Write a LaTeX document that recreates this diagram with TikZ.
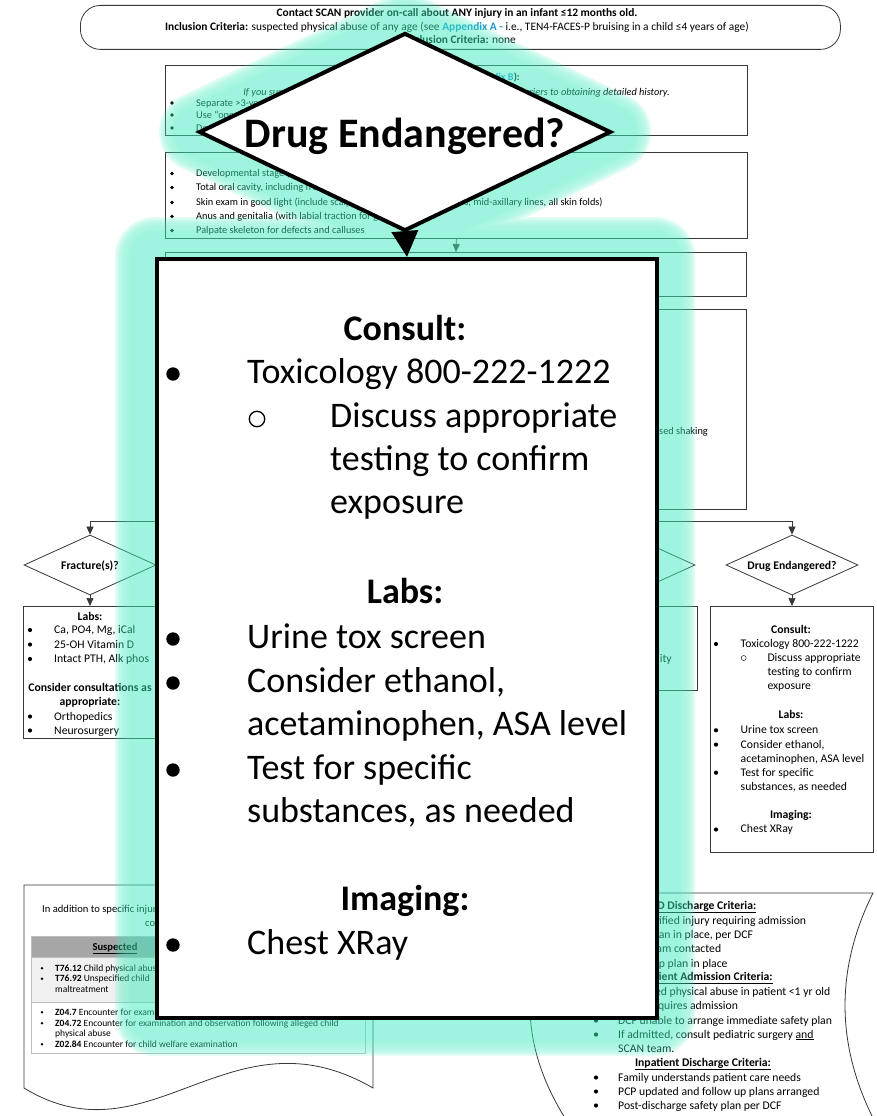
\documentclass[tikz,border=0pt]{standalone}
\usepackage{fontspec}
\setmainfont{Carlito}
\usetikzlibrary{arrows.meta,shapes.geometric}

\definecolor{glowc}{RGB}{62,235,190}
\definecolor{linkc}{RGB}{30,150,205}
\definecolor{hdrgray}{RGB}{166,166,166}
\definecolor{rowgray}{RGB}{240,240,240}
\definecolor{rulegray}{RGB}{190,190,190}
\definecolor{edgegray}{RGB}{55,55,55}

\newcommand{\sz}[1]{\fontsize{#1}{#1}\selectfont}
% filled and hollow list bullets: x, y, radius
\newcommand{\bul}[3]{\fill (#1,#2) circle[radius=#3];}
\newcommand{\hbul}[4]{\draw[line width=#4pt] (#1,#2) circle[radius=#3];}

\tikzset{
  lbl/.style={inner sep=0pt, anchor=base west},
  clbl/.style={inner sep=0pt, anchor=base},
  rlbl/.style={inner sep=0pt, anchor=base east},
  fa/.style={font=\sz{10.3}},
  fb/.style={font=\sz{11.7}},
  ft/.style={font=\sz{11.4}},
  fc/.style={font=\sz{10.6}},
  fd/.style={font=\sz{9.5}},
  fbig/.style={font=\sz{36}},
  plainbox/.style={draw=edgegray, line width=0.8pt, fill=white, inner sep=0pt, anchor=north west},
  smalldiam/.style={diamond, draw=edgegray, line width=0.8pt, fill=white, inner sep=0pt,
    minimum width=132pt, minimum height=60pt},
  flow/.style={draw=edgegray, line width=0.7pt, -{Triangle[length=8pt,width=7pt]}},
  bigdiam/.style={diamond, draw=black, fill=white, line width=4pt, inner sep=0pt,
    minimum width=412pt, minimum height=198pt},
  bigbox/.style={draw=black, fill=white, line width=4pt, inner sep=0pt, anchor=north west,
    minimum width=500pt, minimum height=759pt},
  bigflow/.style={draw=black, line width=4pt, -{Triangle[length=26pt,width=26pt]}},
}

\begin{document}
\begin{tikzpicture}[x=1pt,y=-1pt]
\useasboundingbox (0,0) rectangle (876,1116);
\fill[white] (0,0) rectangle (876,1116);

% ---------- entry terminal
\node[plainbox, rounded corners=20pt, minimum width=760pt, minimum height=44pt] (top) at (80,5) {};
\node[clbl, ft] (top1) at (457,17) {\bfseries Contact SCAN provider on-call about ANY injury in an infant ≤12 months old.};
\node[clbl, ft] (top2) at (457,30.5) {\textbf{Inclusion Criteria:} suspected physical abuse of any age (see \textcolor{linkc}{\textbf{Appendix A -}} i.e., TEN4-FACES-P bruising in a child ≤4 years of age)};
\node[clbl, ft] (top3) at (460,44) {\textbf{Exclusion Criteria:} none};

% ---------- history box
\node[plainbox, minimum width=582pt, minimum height=70pt] (hist) at (165,65) {};
\node[rlbl, fa] (hist0) at (520,80.5) {\bfseries History (see \textcolor{linkc}{\underline{Appendix B}}):};
\node[clbl, fa] (hist1) at (456.5,95.5) {\itshape If you suspect abuse, do not let your concerns about reporting be barriers to obtaining detailed history.};
\bul{172}{103}{1.8}
\node[lbl, fa] (hist2) at (196,106) {Separate >3-year-old children from caregivers for interview};
\bul{172}{115}{1.8}
\node[lbl, fa] (hist3) at (196,118.5) {Use “open”};
\bul{172}{128}{1.8}
\node[lbl, fa] (hist4) at (196,131) {Describe};

% ---------- exam box
\node[plainbox, minimum width=582pt, minimum height=86pt] (exam) at (165,152) {};
\bul{172}{173.5}{1.8}
\node[lbl, fa] (exam1) at (196,176.5) {Developmental stage (rolling, sitting, crawling, walking)};
\bul{172}{187.5}{1.8}
\node[lbl, fa] (exam2) at (196,190.5) {Total oral cavity, including frenula};
\bul{172}{202.5}{1.8}
\node[lbl, fa] (exam3) at (196,205.5) {Skin exam in good light (include scalp, face, neck, behind the ears, mid-axillary lines, all skin folds)};
\bul{172}{216.5}{1.8}
\node[lbl, fa] (exam4) at (196,219.5) {Anus and genitalia (with labial traction for girls)};
\bul{172}{230.5}{1.8}
\node[lbl, fa] (exam5) at (196,233.5) {Palpate skeleton for defects and calluses};

% ---------- work-up boxes
\node[plainbox, minimum width=581pt, minimum height=44pt] (wk) at (165,252) {};
\node[plainbox, minimum width=581pt, minimum height=200pt] (imag) at (165,309) {};
\node[rlbl, fa] (imag1) at (708,434.5) {if witnessed shaking};
\draw[flow] (exam.south) -- (wk.north);

% ---------- branch diamonds
\node[smalldiam] (frac) at (90,565) {};
\node[clbl, fb] (fract) at (90,569) {\bfseries Fracture(s)?};
\node[smalldiam] (abd) at (629,565) {};
\node[smalldiam] (drug) at (792,565) {};
\node[clbl, fb] (drugt) at (792,569) {\bfseries Drug Endangered?};
\coordinate (split) at (456,521);
\draw[draw=edgegray, line width=0.7pt] (imag.south) -- (split);
\draw[flow] (split) -| (frac.north);
\draw[flow] (split) -| (abd.north);
\draw[flow] (split) -| (drug.north);

% ---------- fracture work-up
\node[plainbox, minimum width=135pt, minimum height=132pt] (fbox) at (23,606) {};
\draw[flow] (frac.south) -- (fbox.north -| frac.south);
\node[clbl, fb] (fb0) at (90,620) {\bfseries Labs:};
\bul{30}{630}{2.1}
\node[lbl, fb] (fb1) at (54,633.5) {Ca, PO4, Mg, iCal};
\bul{30}{644.5}{2.1}
\node[lbl, fb] (fb2) at (54,648) {25-OH Vitamin D};
\bul{30}{659}{2.1}
\node[lbl, fb] (fb3) at (54,662.5) {Intact PTH, Alk phos};
\node[clbl, fb] (fb4) at (90,691.5) {\bfseries Consider consultations as};
\node[clbl, fb] (fb5) at (90,705.5) {\bfseries appropriate:};
\bul{30}{716.5}{2.1}
\node[lbl, fb] (fb6) at (54,720) {Orthopedics};
\bul{30}{730.5}{2.1}
\node[lbl, fb] (fb7) at (54,734) {Neurosurgery};

% ---------- abdominal work-up
\node[plainbox, minimum width=137pt, minimum height=84pt] (abox) at (560,606) {};
\draw[flow] (abd.south) -- (abox.north -| abd.south);
\node[rlbl, fb] (abox1) at (672,662) {CT abdomen/pelvis if any abnormality};

% ---------- drug-endangered work-up
\node[plainbox, minimum width=163pt, minimum height=246pt] (dbox) at (710,606) {};
\draw[flow] (drug.south) -- (dbox.north -| drug.south);
\node[clbl, fb] (db0) at (791,633) {\bfseries Consult:};
\bul{716}{644}{2.1}
\node[lbl, fb] (db1) at (740.5,647) {Toxicology 800-222-1222};
\hbul{743.7}{658}{2.5}{0.45}
\node[lbl, fb] (db2) at (767.3,661.3) {Discuss appropriate};
\node[lbl, fb] (db3) at (767.3,675.3) {testing to confirm};
\node[lbl, fb] (db4) at (767.3,689.3) {exposure};
\node[clbl, fb] (db5) at (791,718.4) {\bfseries Labs:};
\bul{716}{730.3}{2.1}
\node[lbl, fb] (db6) at (740.5,733.7) {Urine tox screen};
\bul{716}{744.6}{2.1}
\node[lbl, fb] (db7) at (740.5,748) {Consider ethanol,};
\node[lbl, fb] (db8) at (740.5,762) {acetaminophen, ASA level};
\bul{716}{772.7}{2.1}
\node[lbl, fb] (db9) at (740.5,776) {Test for specific};
\node[lbl, fb] (db10) at (740.5,790) {substances, as needed};
\node[clbl, fb] (db11) at (791,818.4) {\bfseries Imaging:};
\bul{716}{829.5}{2.1}
\node[lbl, fb] (db12) at (740.5,832.8) {Chest XRay};

% ---------- coding document
\draw[draw=edgegray, line width=0.8pt, fill=white]
  (24,885) -- (373,885) -- (373,1088) .. controls (230,1005) and (150,1165) .. (24,1088) -- cycle;
\node[lbl, fc] (doc1) at (42,912.5) {In addition to specific injury diagnoses, please also consider these ICD-10};
\node[lbl, fc] (doc2) at (145,926.5) {codes as appropriate:};
\fill[hdrgray] (31,936) rectangle (365,957);
\fill[rowgray] (31,957) rectangle (365,1002);
\draw[rulegray, line width=0.6pt] (31,936) rectangle (365,1053) (31,957) -- (365,957) (31,1002) -- (365,1002);
\node[clbl, fc] (thd) at (115,950) {\bfseries\underline{Suspected}};
\bul{42}{968.2}{1.4}
\node[lbl, fd] (r1) at (55,971) {\textbf{T76.12} Child physical abuse, suspected};
\bul{42}{978.7}{1.4}
\node[lbl, fd] (r2) at (55,981.5) {\textbf{T76.92} Unspecified child};
\node[lbl, fd] (r3) at (55,992) {maltreatment};
\bul{42}{1012.2}{1.4}
\node[lbl, fd] (r4) at (55,1015) {\textbf{Z04.7} Encounter for examination and observation following other physical abuse};
\bul{42}{1023.2}{1.4}
\node[lbl, fd] (r5) at (55,1026) {\textbf{Z04.72} Encounter for examination and observation following alleged child};
\node[lbl, fd] (r6) at (55,1036.5) {physical abuse};
\bul{42}{1044.2}{1.4}
\node[lbl, fd] (r7) at (55,1047) {\textbf{Z02.84} Encounter for child welfare examination};

% ---------- disposition criteria
\draw[draw=edgegray, line width=0.8pt, fill=white]
  (565,893) -- (873,893) .. controls (835.7,968) and (835.7,1043) .. (873,1118)
  -- (565,1118) .. controls (518.3,1043) and (518.3,968) .. (565,893) -- cycle;
\node[clbl, fb] (dc0) at (704,909) {\bfseries\underline{ED Discharge Criteria:}};
\bul{596}{920.5}{2.1}
\node[lbl, fb] (dc1) at (618,924) {No identified injury requiring admission};
\bul{596}{935}{2.1}
\node[lbl, fb] (dc2) at (618,938.5) {Safety plan in place, per DCF};
\bul{596}{949}{2.1}
\node[lbl, fb] (dc3) at (618,952.5) {SCAN team contacted};
\bul{596}{963.5}{2.1}
\node[lbl, fb] (dc4) at (618,967) {Follow-up plan in place};
\node[clbl, fb] (dc5) at (703,980) {\bfseries\underline{Inpatient Admission Criteria:}};
\bul{596}{991.5}{2.1}
\node[lbl, fb] (dc6) at (618,995) {Suspected physical abuse in patient <1 yr old};
\bul{596}{1005.5}{2.1}
\node[lbl, fb] (dc7) at (618,1009) {Injury requires admission};
\bul{596}{1020.5}{2.1}
\node[lbl, fb] (dc8) at (618,1024) {DCF unable to arrange immediate safety plan};
\bul{596}{1034.5}{2.1}
\node[lbl, fb] (dc9) at (618,1038) {If admitted, consult pediatric surgery \underline{and}};
\node[lbl, fb] (dc10) at (618,1052.5) {SCAN team.};
\node[clbl, fb] (dc11) at (703,1066) {\bfseries\underline{Inpatient Discharge Criteria:}};
\bul{596}{1077.5}{2.1}
\node[lbl, fb] (dc12) at (618,1081) {Family understands patient care needs};
\bul{596}{1091.5}{2.1}
\node[lbl, fb] (dc13) at (618,1095) {PCP updated and follow up plans arranged};
\bul{596}{1105.5}{2.1}
\node[lbl, fb] (dc14) at (618,1109) {Post-discharge safety plan per DCF};

% ---------- soft highlight behind the enlarged branch
\begin{scope}[transparency group, opacity=0.5]
  \foreach \w/\o in {80/0.3,76/0.3,72/0.3,68/0.3,64/0.3,60/0.3,56/0.3,52/1}{
    \draw[draw=glowc, draw opacity=\o, line width=\w pt, line join=round]
      (405,33) -- (611,132) -- (405,231) -- (199,132) -- cycle
      (155,257) rectangle (655,1016);
  }
  \fill[glowc, fill opacity=1] (405,33) -- (611,132) -- (405,231) -- (199,132) -- cycle
    (155,257) rectangle (655,1016) (380,220) rectangle (430,262);
\end{scope}

% ---------- enlarged drug-endangered branch
\node[bigdiam] (dd) at (405,132) {};
\node[clbl, font=\sz{42}\bfseries] (ddt) at (405,147) {Drug Endangered?};
\node[bigbox] (bb) at (155,257) {};
\draw[bigflow] (dd.south) -- (bb.north);

\node[clbl, fbig] (bc0) at (405,340) {\bfseries Consult:};
\bul{173}{374}{6.7}
\node[lbl, fbig] (bc1) at (247,383) {Toxicology 800-222-1222};
\hbul{257}{419}{7.7}{1.3}
\node[lbl, fbig] (bc2) at (330,427) {Discuss appropriate};
\node[lbl, fbig] (bc3) at (330,470) {testing to confirm};
\node[lbl, fbig] (bc4) at (330,513) {exposure};
\node[clbl, fbig] (bc5) at (405,603) {\bfseries Labs:};
\bul{173}{639}{6.7}
\node[lbl, fbig] (bc6) at (247,648) {Urine tox screen};
\bul{173}{683}{6.7}
\node[lbl, fbig] (bc7) at (247,692) {Consider ethanol,};
\node[lbl, fbig] (bc8) at (247,735) {acetaminophen, ASA level};
\bul{173}{770}{6.7}
\node[lbl, fbig] (bc9) at (247,779) {Test for specific};
\node[lbl, fbig] (bc10) at (247,822) {substances, as needed};
\node[clbl, fbig] (bc11) at (405,910) {\bfseries Imaging:};
\bul{173}{945}{6.7}
\node[lbl, fbig] (bc12) at (247,954) {Chest XRay};
\end{tikzpicture}
\end{document}
